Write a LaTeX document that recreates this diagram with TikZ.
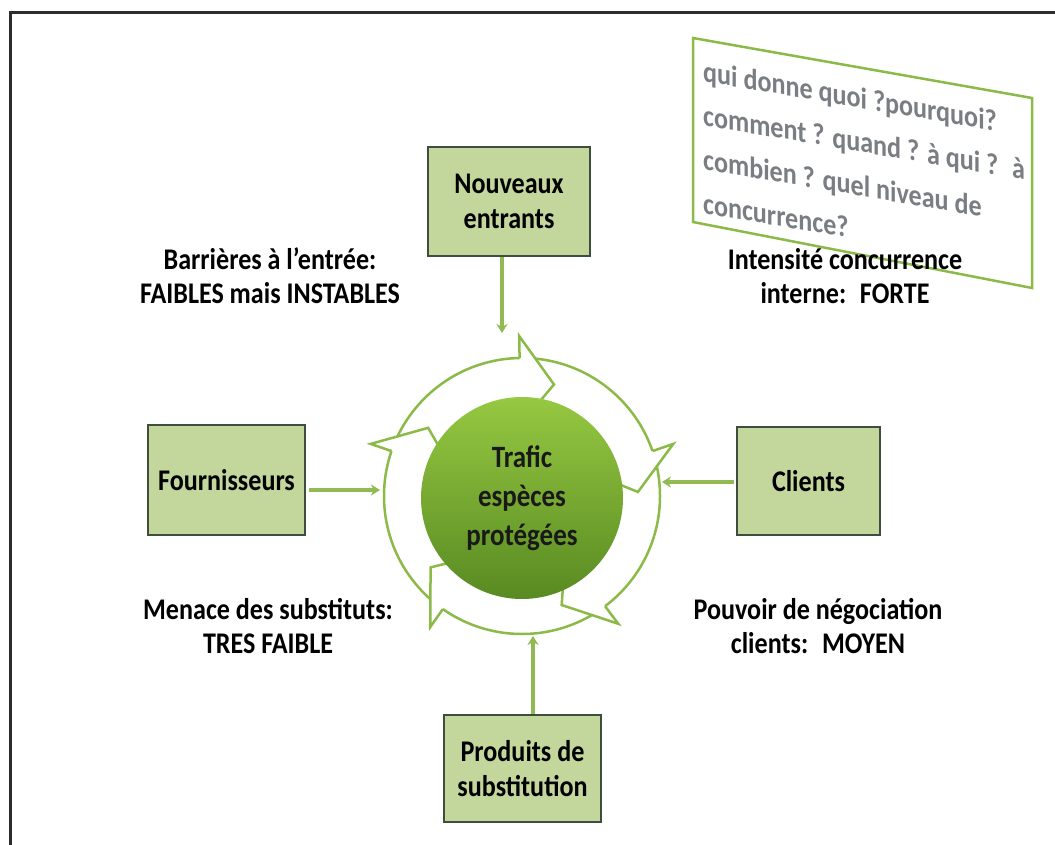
\documentclass[tikz,border=0pt]{standalone}
\usepackage{fontspec}
\setmainfont{Carlito}[FakeStretch=0.87]
\usetikzlibrary{arrows.meta,calc}
\definecolor{boxfill}{RGB}{195,214,155}
\definecolor{boxedge}{RGB}{62,78,62}
\definecolor{conngreen}{RGB}{146,186,82}
\definecolor{ringgreen}{RGB}{140,186,72}
\definecolor{qgray}{RGB}{122,126,130}
\definecolor{framegray}{RGB}{45,45,45}
\definecolor{ballTop}{RGB}{150,200,66}
\definecolor{ballBot}{RGB}{88,138,34}
\begin{document}
\begin{tikzpicture}[x=1pt,y=-1pt,
  every node/.style={inner sep=0pt, align=center},
  txt/.style={font=\bfseries\fontsize{30}{34}\selectfont, text=black},
  forcebox/.style={draw=boxedge, line width=2pt, fill=boxfill,
    font=\bfseries\fontsize{30}{35}\selectfont},
  conn/.style={conngreen, line width=3.5pt, -{Stealth[length=9pt,width=11pt]}},
  ring/.style={ringgreen, line width=2.5pt, line join=miter}
]
\useasboundingbox (0,0) rectangle (1055,845);
\fill[white] (0,0) rectangle (1055,845);
% frame
\draw[framegray, line width=3pt] (1055,13) -- (10,13) -- (10,845);

% question box
\draw[ringgreen, line width=2.5pt] (693,38) -- (1032,98) -- (1032,288) -- (693,222) -- cycle;
\node[anchor=north west, align=left, yslant=-0.17, transform shape, text=qgray,
  font=\bfseries\fontsize{30}{44}\selectfont] (quest) at (703,60)
  {qui donne quoi ?pourquoi?\\comment ? quand ? à qui ?~ à\\combien ? quel niveau de\\concurrence?};

% ring of arrows
\coordinate (C) at (522,496);
\draw[ring] (C) circle[radius=138pt];
\foreach \t in {74,2,-70,-142,144}{
  \pgfmathsetmacro\b{\t+17}
  \fill[white] ($(C)+(\b:160pt)$) -- ($(C)+(\t:116pt)$) -- ($(C)+(\b:72pt)$) -- cycle;
  \draw[ring] ($(C)+(\b:138pt)$) -- ($(C)+(\b:160pt)$) -- ($(C)+(\t:116pt)$) -- ($(C)+(\b:72pt)$);
}

% centre
\node[circle, minimum size=202pt, top color=ballTop, bottom color=ballBot,
  font=\bfseries\fontsize{31}{39}\selectfont, text=black!90] (trafic) at (522,498)
  {Trafic\\espèces\\protégées};

% boxes
\node[forcebox, minimum width=162pt, minimum height=109pt] (nouv) at (509,201.5) {Nouveaux\\entrants};
\node[forcebox, minimum width=157pt, minimum height=110pt] (fourn) at (226.5,480) {Fournisseurs};
\node[forcebox, minimum width=143pt, minimum height=108pt] (clients) at (808.5,481) {Clients};
\node[forcebox, minimum width=157pt, minimum height=107pt] (prod) at (522.5,768.5) {Produits de\\substitution};

% connectors
\coordinate (tN) at (502,333);
\coordinate (tF) at (380,490);
\coordinate (tC) at (662,482);
\coordinate (tP) at (533,636);
\draw[conn] (nouv.south -| tN) -- (tN);
\draw[conn, shorten <=3pt] (fourn.east |- tF) -- (tF);
\draw[conn, shorten <=2pt] (clients.west |- tC) -- (tC);
\draw[conn] (prod.north -| tP) -- (tP);

% labels
\node[txt] (lab1) at (270,276) {Barrières à l’entrée:\\FAIBLES mais INSTABLES};
\node[txt] (lab2) at (845,276) {Intensité concurrence\\interne:~ FORTE};
\node[txt] (lab3) at (268,626) {Menace des substituts:\\TRES FAIBLE};
\node[txt] (lab4) at (818,626) {Pouvoir de négociation\\clients:~ MOYEN};
\end{tikzpicture}
\end{document}
